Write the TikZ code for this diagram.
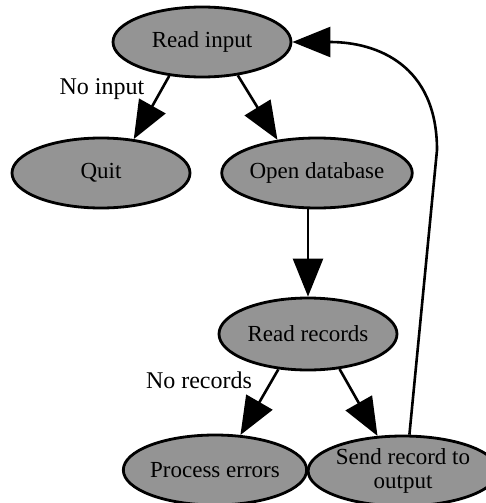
\documentclass[tikz,border=0pt]{standalone}
\usepackage{fontspec}
\setmainfont{Liberation Serif}
\usetikzlibrary{shapes, arrows.meta}

\begin{document}
\begin{tikzpicture}[x=0.5pt, y=-0.5pt,
  proc/.style={ellipse, draw, line width=1.4pt, fill=black!42, minimum width=89pt, minimum height=35pt, inner sep=0pt, align=center, font=\fontsize{11.5}{12}\selectfont},
  flow/.style={line width=1.3pt, -{Triangle[length=19pt,width=15pt]}},
  lbl/.style={font=\fontsize{12}{14}\selectfont}]
\useasboundingbox (0,0) rectangle (486,503);
\node[proc] (rin) at (202,42) {Read input};
\node[proc] (quit) at (101,173) {Quit};
\node[proc, minimum width=95pt] (odb) at (317,173) {Open database};
\node[proc, minimum height=36pt] (rrec) at (308,334) {Read records};
\node[proc] (perr) at (215,470) {Process errors};
\node[proc, minimum width=86pt] (sro) at (403,471) {Send record to\\output};
\node[lbl] (noin) at (102,89) {No input};
\node[lbl] (norec) at (199,380) {No records};
\coordinate (bend) at (437,150);

\draw[flow] (rin.226) -- (quit.46);
\draw[flow] (rin.317) -- (odb.140);
\draw[flow] (rrec.north |- odb.south) -- (rrec.north);
\draw[flow] (rrec.230) -- (perr.54);
\draw[flow] (rrec.312) -- (sro.126);
\draw[flow] (sro.80) -- (bend) to[out=90, in=0, looseness=1.2] (rin.east);
\end{tikzpicture}
\end{document}
